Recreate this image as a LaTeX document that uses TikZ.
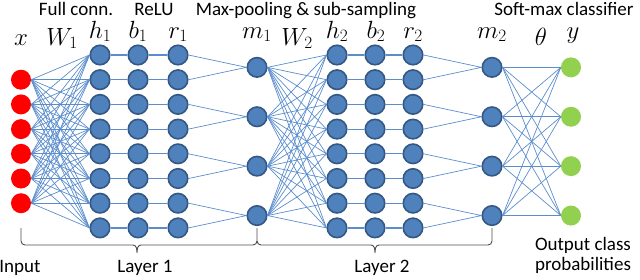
\documentclass[tikz,border=0pt]{standalone}
\usepackage{fontspec}
\setmainfont{Carlito}
\usepackage{xcolor}
\usepackage{tikz}
\definecolor{unitblue}{RGB}{79,129,189}
\definecolor{unitedge}{RGB}{52,88,132}
\definecolor{inred}{RGB}{255,0,0}
\definecolor{outgreen}{RGB}{146,208,80}
\definecolor{wirecol}{RGB}{91,141,205}

\begin{document}
\begin{tikzpicture}[x=1pt, y=-1pt,
  unit/.style={circle, draw=unitedge, line width=1.6pt, fill=unitblue,
    minimum size=19.5pt, inner sep=0pt},
  inunit/.style={circle, fill=inred, minimum size=20pt, inner sep=0pt},
  outunit/.style={circle, fill=outgreen, minimum size=20pt, inner sep=0pt},
  wire/.style={draw=wirecol, line width=0.7pt},
  chain/.style={draw=wirecol, line width=1.2pt},
  var/.style={anchor=base, inner sep=0pt, font=\fontsize{24}{24}\selectfont},
  note/.style={anchor=base, inner sep=0pt, align=center,
    font=\fontsize{19}{20}\selectfont},
  bracket/.style={draw=black!70, line width=0.9pt}
]
\useasboundingbox (0,0) rectangle (640,279);

% Units of the two hidden layers.
\foreach \i in {1,...,8}{
  \pgfmathsetmacro\yy{55+24.7*(\i-1)}
  \node[unit] (h1-\i) at (100,\yy) {};
  \node[unit] (b1-\i) at (138,\yy) {};
  \node[unit] (r1-\i) at (178,\yy) {};
  \node[unit] (h2-\i) at (337,\yy) {};
  \node[unit] (b2-\i) at (375,\yy) {};
  \node[unit] (r2-\i) at (413,\yy) {};
  \draw[chain] (h1-\i.east) -- (b1-\i.west) (b1-\i.east) -- (r1-\i.west);
  \draw[chain] (h2-\i.east) -- (b2-\i.west) (b2-\i.east) -- (r2-\i.west);
}

% Input units.
\foreach \i in {1,...,6}{
  \pgfmathsetmacro\yy{79.7+24.7*(\i-1)}
  \node[inunit] (in-\i) at (21,\yy) {};
}

% Pooled units and outputs.
\foreach \j in {1,...,4}{
  \pgfmathsetmacro\yy{67.35+49.4*(\j-1)}
  \node[unit] (m1-\j) at (257,\yy) {};
  \node[unit] (m2-\j) at (492,\yy) {};
  \node[outunit] (y-\j) at (571,\yy) {};
}

% Full connections.
\foreach \i in {1,...,6}
  \foreach \k in {1,...,8}
    \draw[wire] (in-\i.east) -- (h1-\k.west);
\foreach \j in {1,...,4}
  \foreach \k in {1,...,8}
    \draw[wire] (m1-\j.east) -- (h2-\k.west);
\foreach \j in {1,...,4}
  \foreach \k in {1,...,4}
    \draw[wire] (m2-\j.east) -- (y-\k.west);

% Max-pooling pairs.
\foreach \j in {1,...,4}{
  \pgfmathtruncatemacro\ia{2*\j-1}
  \pgfmathtruncatemacro\ib{2*\j}
  \draw[wire] (r1-\ia.east) -- (m1-\j.west) (r1-\ib.east) -- (m1-\j.west);
  \draw[wire] (r2-\ia.east) -- (m2-\j.west) (r2-\ib.east) -- (m2-\j.west);
}

% Variable names.
\node[var] (lx) at (21,45) {$x$};
\node[var] (lw1) at (62,45) {$W_1$};
\node[var] (lh1) at (100,38) {$h_1$};
\node[var] (lb1) at (138,38) {$b_1$};
\node[var] (lr1) at (178,38) {$r_1$};
\node[var] (lm1) at (257,38) {$m_1$};
\node[var] (lw2) at (297,45) {$W_2$};
\node[var] (lh2) at (337,38) {$h_2$};
\node[var] (lb2) at (376,38) {$b_2$};
\node[var] (lr2) at (413,38) {$r_2$};
\node[var] (lm2) at (492,38) {$m_2$};
\node[var] (lth) at (541,45) {$\theta$};
\node[var] (ly) at (573,38) {$y$};

% Stage captions.
\node[note] (full) at (76,15) {Full conn.};
\node[note] (relu) at (154,15) {ReLU};
\node[note] (pool) at (306,15) {Max-pooling \& sub-sampling};
\node[note] (smax) at (564,15) {Soft-max classifier};

% Layer braces.
\draw[bracket] (21,228) -- (21,241) to[out=-90,in=180] (25,245) -- (133,245)
  to[out=0,in=90] (137,253) to[out=90,in=180] (141,245) -- (253,245)
  to[out=0,in=-90] (257,241) -- (257,228);
\draw[bracket] (257,241) to[out=-90,in=180] (261,245) -- (371,245)
  to[out=0,in=90] (375,253) to[out=90,in=180] (379,245) -- (488,245)
  to[out=0,in=-90] (492,241) -- (492,228);

\node[note] (inp) at (20,272) {Input};
\node[note] (lay1) at (145,272) {Layer 1};
\node[note] (lay2) at (382,272) {Layer 2};
\node[note, anchor=north] (outp) at (583,237) {Output class\\probabilities};

\end{tikzpicture}
\end{document}
